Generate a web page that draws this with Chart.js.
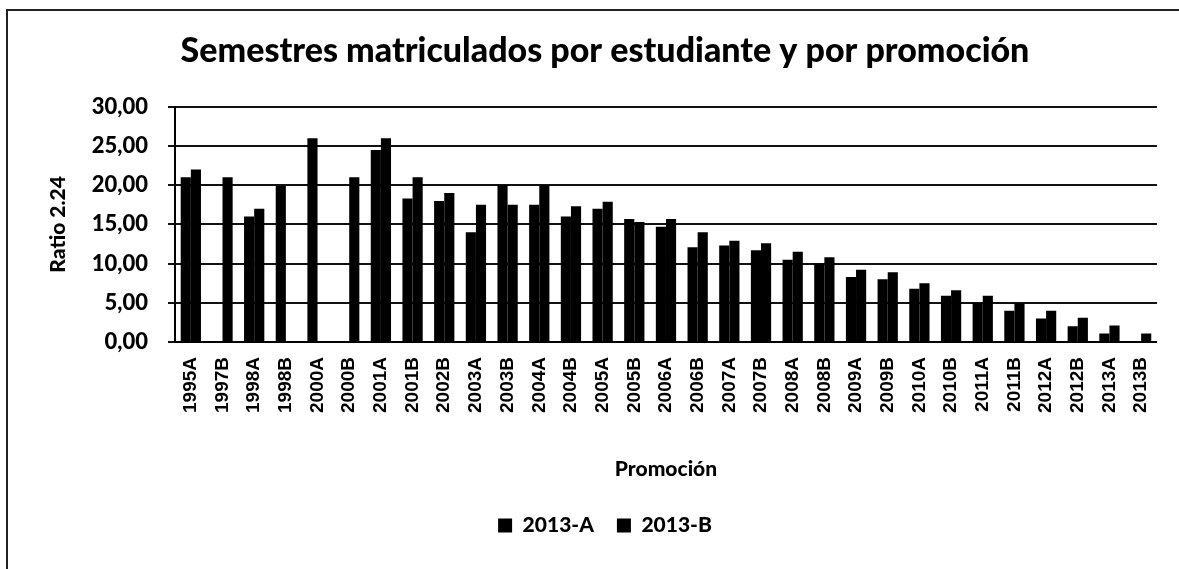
<!DOCTYPE html>
<html lang="es">
<head>
<meta charset="utf-8">
<title>Semestres matriculados</title>
<script src="https://cdn.jsdelivr.net/npm/chart.js@4.4.1/dist/chart.umd.min.js"></script>
<style>
  html, body { margin: 0; padding: 0; background: #fff; overflow: hidden; }
  #marco {
    position: absolute; left: 6px; top: 9px; width: 1300px; height: 700px;
    border-left: 2px solid #222; border-top: 2px solid #222;
  }
  #caja { position: absolute; left: 0; top: 0; width: 1179px; height: 569px; }
</style>
</head>
<body>
<div id="marco"></div>
<div id="caja"><canvas id="graficoSemestres" width="1179" height="569"></canvas></div>
<script>
const promociones = ['1995A', '1997B', '1998A', '1998B', '2000A', '2000B', '2001A', '2001B',
  '2002B', '2003A', '2003B', '2004A', '2004B', '2005A', '2005B', '2006A', '2006B', '2007A',
  '2007B', '2008A', '2008B', '2009A', '2009B', '2010A', '2010B', '2011A', '2011B', '2012A',
  '2012B', '2013A', '2013B'];

const ratio2013A = [21.0, null, 16.0, 19.9, 26.0, null, 24.5, 18.3,
  18.0, 14.0, 20.0, 17.5, 16.0, 17.0, 15.7, 14.7, 12.1, 12.3,
  11.7, 10.5, 10.0, 8.3, 8.0, 6.8, 5.9, 5.0, 4.0, 3.0,
  2.0, 1.1, null];

const ratio2013B = [22.0, 21.0, 17.0, null, null, 21.0, 26.0, 21.0,
  19.0, 17.5, 17.5, 20.0, 17.3, 17.9, 15.3, 15.7, 14.0, 12.9,
  12.6, 11.5, 10.8, 9.2, 8.9, 7.5, 6.6, 5.9, 4.9, 4.0,
  3.1, 2.1, 1.1];

const series = ['2013-A', '2013-B'];

const fuente = "Lato, 'Open Sans', sans-serif";

new Chart(document.getElementById('graficoSemestres'), {
  type: 'bar',
  data: {
    labels: promociones,
    datasets: [
      { label: series[0], data: ratio2013A, backgroundColor: '#000', borderWidth: 0 },
      { label: series[1], data: ratio2013B, backgroundColor: '#000', borderWidth: 0 }
    ]
  },
  options: {
    responsive: false,
    animation: false,
    devicePixelRatio: 1,
    datasets: { bar: { categoryPercentage: 0.64, barPercentage: 1 } },
    layout: { padding: { left: 36, right: 5, top: 0, bottom: 23 } },
    plugins: {
      title: {
        display: true,
        text: 'Semestres matriculados por estudiante y por promoción',
        color: '#000',
        font: { family: fuente, size: 34, weight: 900 },
        padding: { top: 31, bottom: 35 }
      },
      legend: {
        position: 'bottom',
        labels: {
          color: '#000',
          font: { family: fuente, size: 21, weight: 900 },
          boxWidth: 14, boxHeight: 14,
          padding: 23
        }
      },
      tooltip: { enabled: false }
    },
    scales: {
      x: {
        grid: { display: false, drawTicks: false },
        border: { display: true, color: '#000', width: 2 },
        ticks: {
          color: '#000',
          font: { family: "'Liberation Sans', Arial, sans-serif", size: 19, weight: 'bold' },
          minRotation: 90, maxRotation: 90, autoSkip: false,
          padding: 15
        },
        title: {
          display: true,
          text: 'Promoción',
          color: '#000',
          font: { family: fuente, size: 21, weight: 900 },
          padding: { top: 0, bottom: 10 }
        },
        afterFit: s => { s.height = 150; }
      },
      y: {
        min: 0, max: 30,
        grid: { color: '#111', lineWidth: 2, tickLength: 7, drawTicks: true },
        border: { display: true, color: '#000', width: 2 },
        ticks: {
          stepSize: 5,
          color: '#000',
          padding: 20,
          font: { family: fuente, size: 22, weight: 900 },
          callback: v => v.toFixed(2).replace('.', ',')
        },
        title: {
          display: true,
          text: 'Ratio 2.24',
          color: '#000',
          font: { family: fuente, size: 21, weight: 900 },
          padding: { top: 10, bottom: 0 }
        },
        afterFit: s => { s.width = 139; }
      }
    }
  }
});
</script>
</body>
</html>
